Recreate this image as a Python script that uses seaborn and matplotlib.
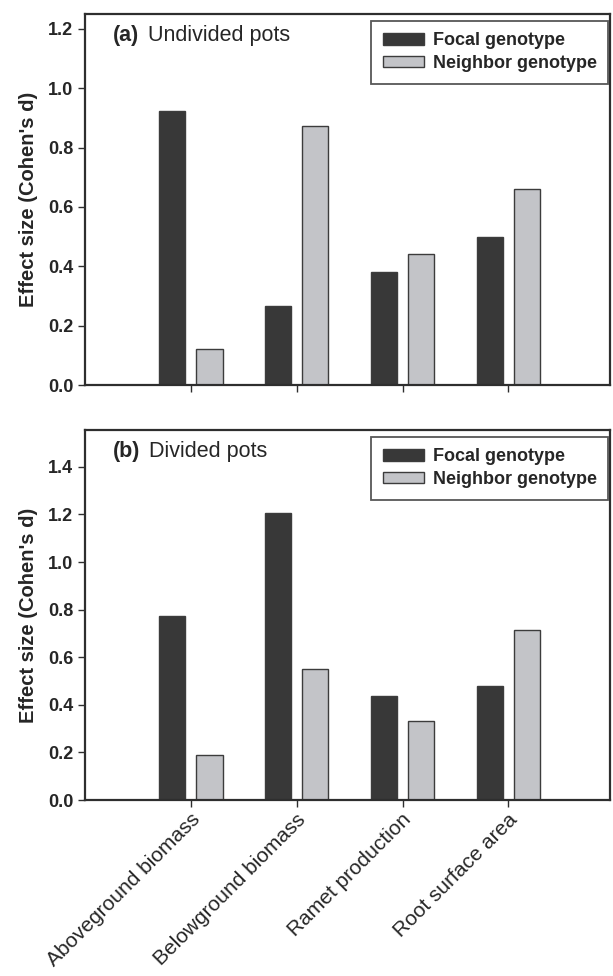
import numpy as np
import pandas as pd
import matplotlib
matplotlib.use("Agg")
import matplotlib.pyplot as plt
import matplotlib.transforms as mtransforms
import seaborn as sns

# dados
traits = ["Aboveground biomass", "Belowground biomass", "Ramet production", "Root surface area"]
genotypes = ["Focal genotype", "Neighbor genotype"]
undivided_focal = [0.924, 0.267, 0.382, 0.499]
undivided_neighbor = [0.120, 0.872, 0.443, 0.660]
divided_focal = [0.773, 1.205, 0.438, 0.480]
divided_neighbor = [0.188, 0.549, 0.332, 0.714]
yticks_a = [0.0, 0.2, 0.4, 0.6, 0.8, 1.0, 1.2]
yticks_b = [0.0, 0.2, 0.4, 0.6, 0.8, 1.0, 1.2, 1.4]


def long_df(focal, neighbor):
    return pd.DataFrame({
        "trait": traits * 2,
        "genotype": [genotypes[0]] * 4 + [genotypes[1]] * 4,
        "effect": list(focal) + list(neighbor),
    })


df_a = long_df(undivided_focal, undivided_neighbor)
df_b = long_df(divided_focal, divided_neighbor)

sns.set_style("ticks")
plt.rcParams["font.family"] = ["Liberation Sans", "DejaVu Sans"]

palette = {"Focal genotype": "#383838", "Neighbor genotype": "#c3c4c8"}
spine_col = "#2e2e2e"

fig = plt.figure(figsize=(6.13, 9.76), dpi=100)
ax_a = fig.add_axes([0.1387, 0.6055, 0.8563, 0.3802])
ax_b = fig.add_axes([0.1387, 0.1803, 0.8563, 0.3791])

panels = [
    (ax_a, df_a, "(a)", "Undivided pots", yticks_a, 1.25),
    (ax_b, df_b, "(b)", "Divided pots", yticks_b, 1.555),
]

for ax, d, tag, title, yt, ytop in panels:
    sns.barplot(data=d, x="trait", y="effect", hue="genotype", order=traits,
                hue_order=genotypes, palette=palette, width=0.7, gap=0.29,
                edgecolor="#3c3c3c", linewidth=1.0, saturation=1, ax=ax)
    ax.set_xlim(-1, 3.96)
    ax.set_ylim(0, ytop)
    ax.set_yticks(yt)
    ax.set_yticklabels([f"{v:.1f}" for v in yt], fontsize=13, fontweight="bold")
    ax.set_ylabel("Effect size (Cohen's d)", fontsize=14.5, fontweight="bold", labelpad=7)
    ax.set_xlabel("")
    for s in ax.spines.values():
        s.set_linewidth(1.6)
        s.set_color(spine_col)
    ax.tick_params(axis="both", direction="out", length=5, width=1, color=spine_col)

    t1 = ax.text(0.054, 0.943, tag, transform=ax.transAxes, fontsize=15.5,
                 fontweight="bold", va="center", ha="left")
    ax.annotate(title, xy=(1, 0), xycoords=t1, xytext=(6, 0),
                textcoords="offset points", fontsize=15.5, va="bottom", ha="left")

    leg = ax.legend(loc="upper right", bbox_to_anchor=(0.997, 0.982), fontsize=13,
                    frameon=True, fancybox=False, handlelength=2.25, handleheight=0.62,
                    handletextpad=0.5, labelspacing=0.3, borderpad=0.65,
                    borderaxespad=0.0)
    leg.get_frame().set_edgecolor(spine_col)
    leg.get_frame().set_linewidth(1.3)
    for txt in leg.get_texts():
        txt.set_fontweight("bold")

ax_a.set_xticklabels([])
ax_b.set_xticks(range(len(traits)))
ax_b.set_xticklabels(traits, rotation=45, ha="right", va="center",
                     rotation_mode="anchor", fontsize=15)
ax_b.tick_params(axis="x", pad=7)
shift = mtransforms.ScaledTranslation(6 / 100, 0, fig.dpi_scale_trans)
for lab in ax_b.get_xticklabels():
    lab.set_transform(lab.get_transform() + shift)

fig.savefig("out.png", dpi=100)
